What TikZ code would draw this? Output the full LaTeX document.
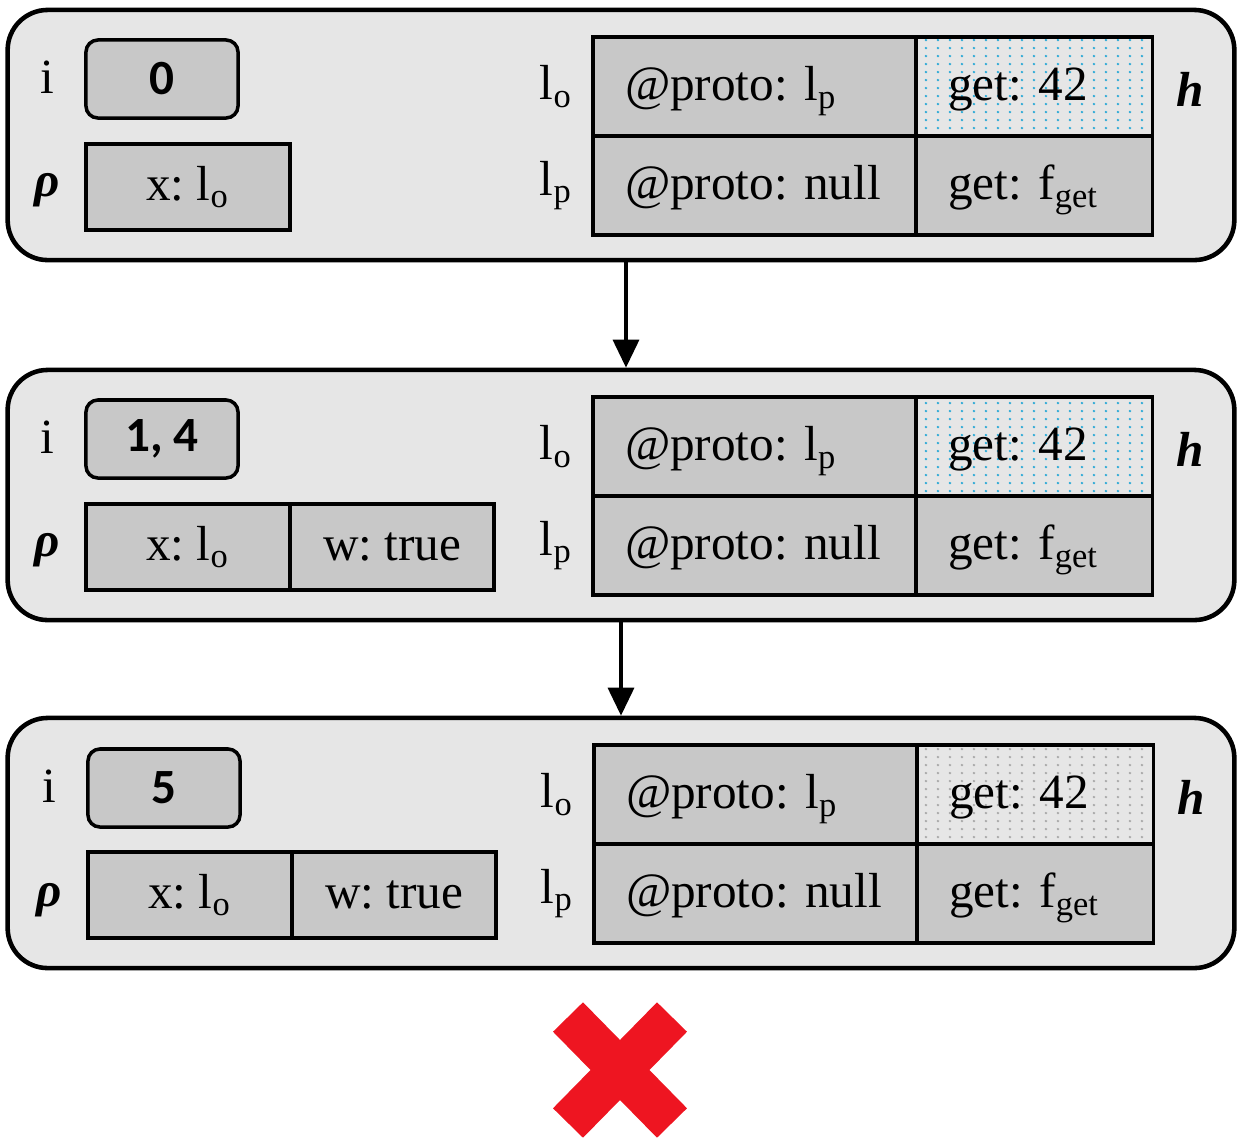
\documentclass[tikz,border=0pt]{standalone}
\usepackage{fontspec}
\setmainfont{Liberation Serif}
\newfontfamily\numfont{Carlito}
\usetikzlibrary{arrows.meta,patterns}

\definecolor{panelgray}{HTML}{E6E6E6}
\definecolor{cellgray}{HTML}{C8C8C8}
\definecolor{dotblue}{HTML}{2AA9D6}
\definecolor{dotgray}{HTML}{A8A8A8}
\definecolor{crossred}{HTML}{EE1521}

% sparse dot grid for the changed heap cell
\pgfdeclarepatternformonly{griddots}{\pgfpointorigin}{\pgfpoint{3.4pt}{2.4pt}}{\pgfpoint{3.4pt}{2.4pt}}{%
  \pgfpathcircle{\pgfpoint{1.7pt}{1.2pt}}{0.38pt}\pgfusepath{fill}}

\begin{document}
\begin{tikzpicture}[x=0.01cm,y=-0.01cm,
    every node/.style={font=\fontsize{14}{16}\selectfont\frenchspacing},
    panel/.style={draw,line width=1.3pt,fill=panelgray,rounded corners=0.4cm,
      minimum width=12.26cm,minimum height=2.5cm},
    counter/.style={draw,line width=1pt,fill=cellgray,rounded corners=0.12cm,
      minimum width=1.52cm,minimum height=0.78cm,font=\fontsize{14}{16}\numfont\bfseries},
    envcell/.style={draw,line width=1pt,fill=cellgray,outer sep=0pt,
      minimum width=2.04cm,minimum height=0.86cm},
    protocell/.style={draw,line width=1pt,fill=cellgray,anchor=north west,outer sep=0pt,
      text width=2.59cm,inner xsep=0.32cm,align=left,minimum height=0.99cm,
      text height=0.40cm,text depth=0.12cm},
    getcell/.style={draw,line width=1pt,anchor=north west,outer sep=0pt,
      text width=1.72cm,inner xsep=0.32cm,align=left,minimum height=0.99cm,
      text height=0.40cm,text depth=0.12cm},
    flow/.style={line width=1pt,-{Triangle[length=0.28cm,width=0.26cm]}},
    cross/.style={line width=0.42cm,crossred}]
  \useasboundingbox (0,0) rectangle (1244,1144);

  % state 0
  \node[panel] (p1) at (621,135) {};
  \node (i1) at (47,77) {i};
  \node[counter] (c1) at (162,79) {0};
  \node (r1) at (47,190) {\textbf{\textit{ρ}}};
  \node[envcell] (e1) at (188,187) {x: l\textsubscript{o}};
  \node[protocell] (o1) at (593,37) {@proto: l\textsubscript{p}};
  \node[getcell,pattern=griddots,pattern color=dotblue] (g1) at (o1.north east) {get: 42};
  \node[protocell] (n1) at (o1.south west) {@proto: null};
  \node[getcell,fill=cellgray] (f1) at (n1.north east) {get: f\textsubscript{get}};
  \node[anchor=east] (lo1) at ([xshift=-0.08cm]o1.west) {l\textsubscript{o}};
  \node[anchor=east] (lp1) at ([xshift=-0.08cm]n1.west) {l\textsubscript{p}};
  \node[anchor=west] (h1) at ([xshift=0.12cm,yshift=-0.03cm]g1.east) {\textbf{\textit{h}}};

  % state 1, 4
  \node[panel] (p2) at (621,495) {};
  \node (i2) at (47,437) {i};
  \node[counter] (c2) at (162,439) {1, 4};
  \node (r2) at (47,550) {\textbf{\textit{ρ}}};
  \node[envcell] (e2) at (188,547) {x: l\textsubscript{o}};
  \node[envcell,anchor=west] (w2) at (e2.east) {w: true};
  \node[protocell] (o2) at (593,397) {@proto: l\textsubscript{p}};
  \node[getcell,pattern=griddots,pattern color=dotblue] (g2) at (o2.north east) {get: 42};
  \node[protocell] (n2) at (o2.south west) {@proto: null};
  \node[getcell,fill=cellgray] (f2) at (n2.north east) {get: f\textsubscript{get}};
  \node[anchor=east] (lo2) at ([xshift=-0.08cm]o2.west) {l\textsubscript{o}};
  \node[anchor=east] (lp2) at ([xshift=-0.08cm]n2.west) {l\textsubscript{p}};
  \node[anchor=west] (h2) at ([xshift=0.12cm,yshift=-0.03cm]g2.east) {\textbf{\textit{h}}};

  % state 5
  \node[panel] (p3) at (621,843) {};
  \node (i3) at (49,786) {i};
  \node[counter] (c3) at (164,788) {5};
  \node (r3) at (49,900) {\textbf{\textit{ρ}}};
  \node[envcell] (e3) at (190,895) {x: l\textsubscript{o}};
  \node[envcell,anchor=west] (w3) at (e3.east) {w: true};
  \node[protocell] (o3) at (594,745) {@proto: l\textsubscript{p}};
  \node[getcell,pattern=griddots,pattern color=dotgray] (g3) at (o3.north east) {get: 42};
  \node[protocell] (n3) at (o3.south west) {@proto: null};
  \node[getcell,fill=cellgray] (f3) at (n3.north east) {get: f\textsubscript{get}};
  \node[anchor=east] (lo3) at ([xshift=-0.08cm]o3.west) {l\textsubscript{o}};
  \node[anchor=east] (lp3) at ([xshift=-0.08cm]n3.west) {l\textsubscript{p}};
  \node[anchor=west] (h3) at ([xshift=0.12cm,yshift=-0.03cm]g3.east) {\textbf{\textit{h}}};

  \draw[flow] ([xshift=0.05cm]p1.south) -- ([xshift=0.05cm]p2.north);
  \draw[flow] (p2.south) -- (p3.north);

  % failure mark
  \draw[cross] (568,1017) -- (672,1123);
  \draw[cross] (672,1017) -- (568,1123);
\end{tikzpicture}
\end{document}
